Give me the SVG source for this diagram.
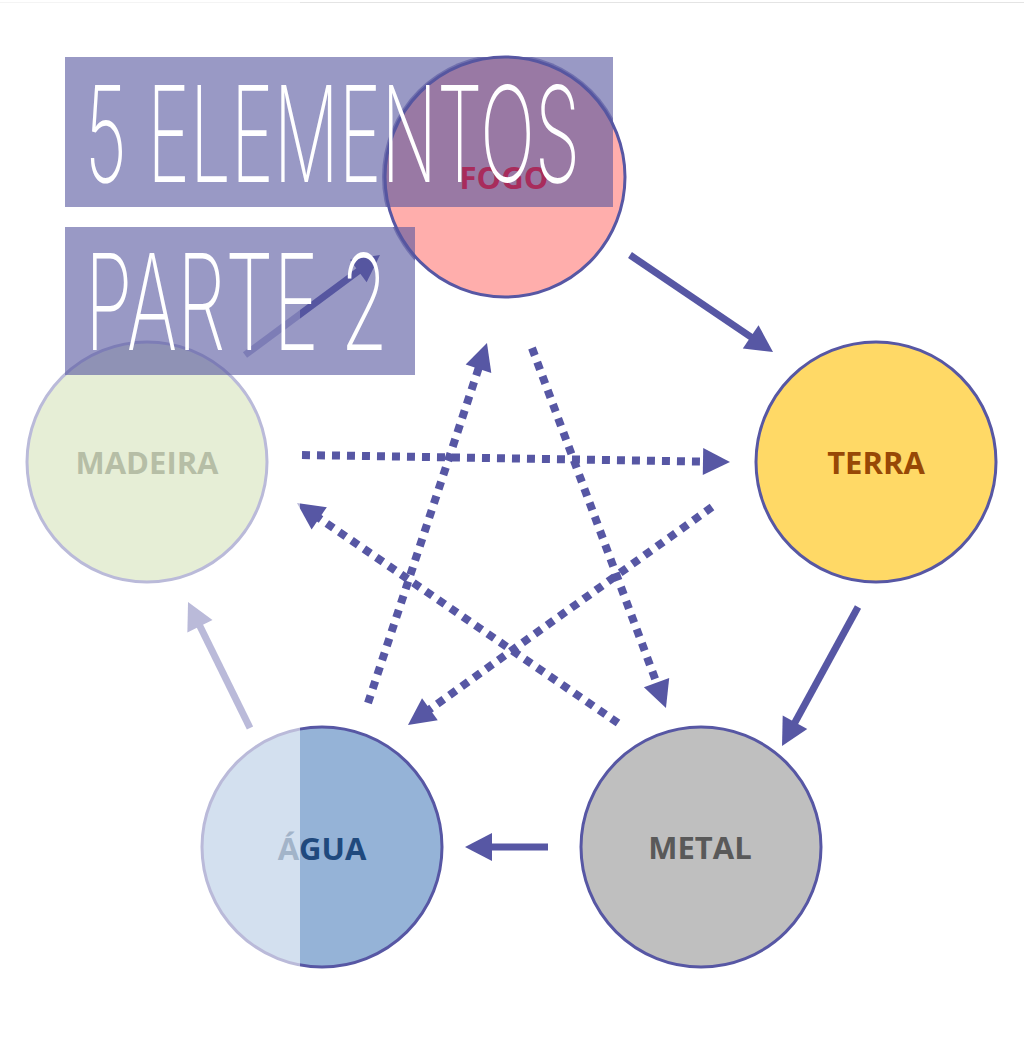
<svg xmlns="http://www.w3.org/2000/svg" width="1024" height="1038" viewBox="0 0 1024 1038">
  <style>
    .node { stroke: #5757a4; stroke-width: 3; }
    .lbl { font-family: "Open Sans", "DejaVu Sans", sans-serif; font-weight: bold; font-size: 31px; text-anchor: middle; }
    .solid { stroke: #5757a4; stroke-width: 7; fill: none; marker-end: url(#headS); }
    .dot { stroke: #5757a4; stroke-width: 8; fill: none; stroke-dasharray: 8 7; marker-end: url(#headD); }
    .tbox { fill: #55559f; fill-opacity: 0.6; }
    .ttl { font-family: Inter, Lato, "DejaVu Sans", sans-serif; font-weight: 200; font-size: 133px; fill: #ffffff; }
  </style>
  <defs>
    <marker id="headS" markerUnits="userSpaceOnUse" orient="auto" refX="0" refY="0" markerWidth="30" markerHeight="30" overflow="visible">
      <path d="M-1,-14 L26,0 L-1,14 z" fill="#5757a4"/>
    </marker>
    <marker id="headD" markerUnits="userSpaceOnUse" orient="auto" refX="0" refY="0" markerWidth="30" markerHeight="30" overflow="visible">
      <path d="M-1,-13.5 L26,0 L-1,13.5 z" fill="#5757a4"/>
    </marker>
    <clipPath id="fogoClip">
      <circle cx="505" cy="177" r="123"/>
    </clipPath>
  </defs>

  <rect x="0" y="0" width="1024" height="1038" fill="#ffffff"/>
  <line x1="0" y1="2.5" x2="1024" y2="2.5" stroke="#e4e4e4" stroke-width="1"/>

  <g id="connectors">
    <line class="solid" x1="630" y1="255" x2="751.5" y2="337.4"/>
    <line class="solid" x1="858" y1="607" x2="794.5" y2="723.2"/>
    <line class="solid" x1="548" y1="847" x2="491" y2="847"/>
    <line class="solid" x1="250" y1="728" x2="199.5" y2="625.3"/>
    <line class="solid" x1="245" y1="355" x2="359.1" y2="270.5"/>
    <line class="dot" x1="302" y1="455" x2="704" y2="461.6"/>
    <line class="dot" x1="712" y1="507" x2="429.1" y2="709.8"/>
    <line class="dot" x1="618" y1="723" x2="318.4" y2="517.7"/>
    <line class="dot" x1="368" y1="703" x2="478.8" y2="367.7"/>
    <line class="dot" x1="532" y1="348" x2="656.9" y2="683.6"/>
  </g>

  <g id="madeira">
    <circle class="node" cx="147" cy="462" r="120" fill="#c3d69b"/>
    <text class="lbl" x="147" y="474" fill="#4f6228">MADEIRA</text>
  </g>
  <g id="terra">
    <circle class="node" cx="876" cy="462" r="120" fill="#ffd966"/>
    <text class="lbl" x="876" y="474" fill="#974806">TERRA</text>
  </g>
  <g id="metal">
    <circle class="node" cx="701" cy="847" r="120" fill="#bfbfbf"/>
    <text class="lbl" x="700" y="859" fill="#595959">METAL</text>
  </g>
  <g id="agua">
    <circle class="node" cx="322" cy="847" r="120" fill="#95b3d7"/>
    <text class="lbl" x="322" y="860" fill="#1f497d">ÁGUA</text>
  </g>

  <rect id="fade" x="0" y="0" width="300" height="1038" fill="#ffffff" fill-opacity="0.59"/>

  <g id="title-bg">
    <rect class="tbox" x="65" y="57" width="548" height="150"/>
    <rect class="tbox" x="65" y="227" width="350" height="148"/>
  </g>

  <g id="fogo">
    <circle class="node" cx="505" cy="177" r="120" fill="#ffaeac"/>
    <g clip-path="url(#fogoClip)">
      <rect class="tbox" x="65" y="57" width="548" height="150"/>
      <rect class="tbox" x="65" y="227" width="350" height="148"/>
    </g>
    <text class="lbl" x="504" y="189" fill="#a82c5c">FOGO</text>
  </g>

  <g id="title">
    <text class="ttl" x="85" y="182" textLength="495" lengthAdjust="spacingAndGlyphs">5 ELEMENTOS</text>
    <text class="ttl" x="85" y="350" textLength="303" lengthAdjust="spacingAndGlyphs">PARTE 2</text>
  </g>
</svg>
